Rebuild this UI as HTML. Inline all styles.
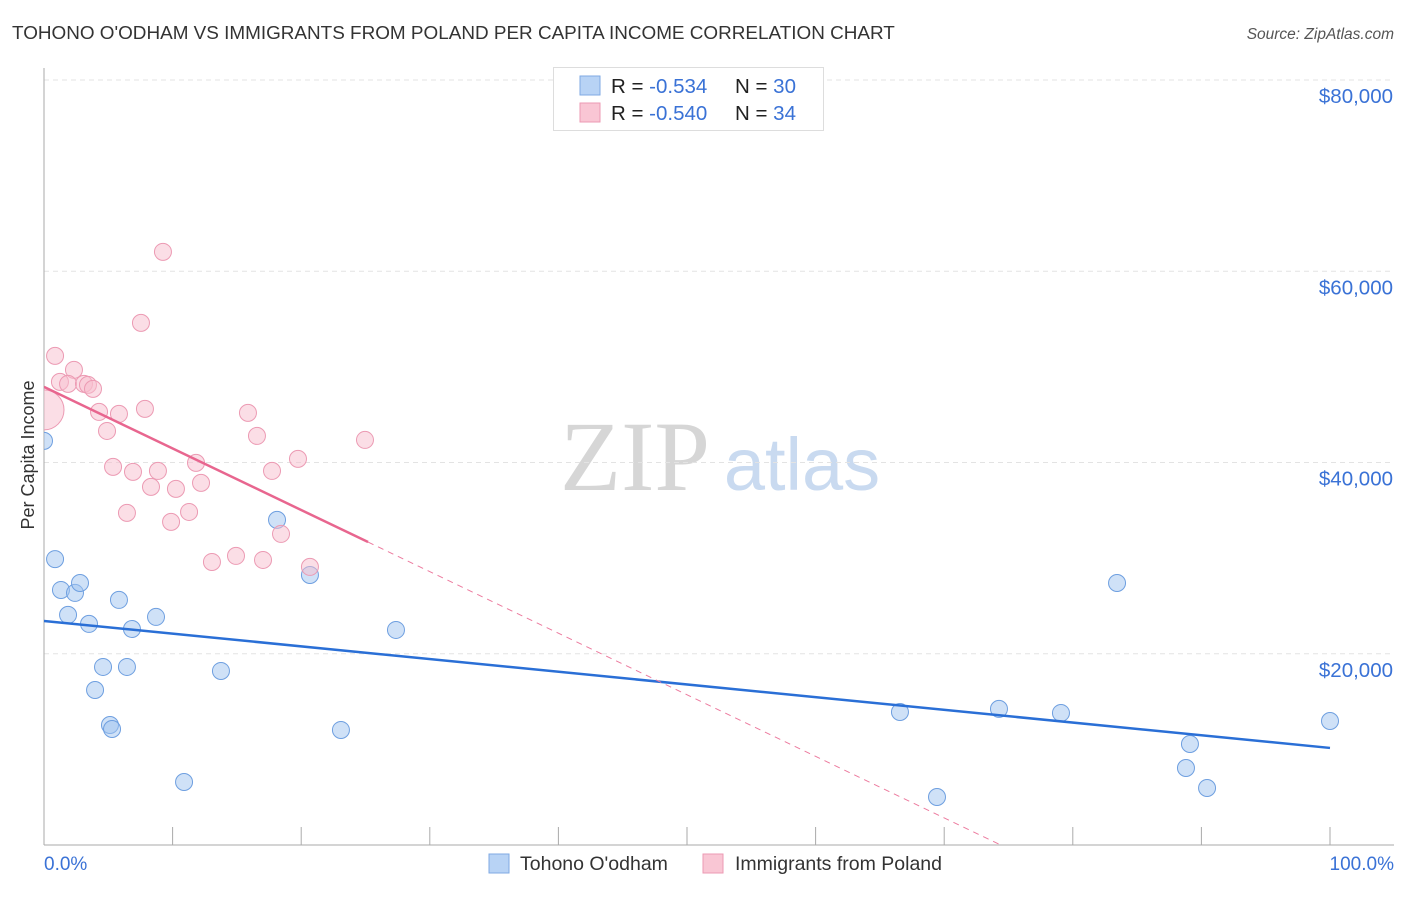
<!DOCTYPE html>
<html><head><meta charset="utf-8"><style>
body{margin:0;background:#fff;font-family:"Liberation Sans",sans-serif;}
svg text{font-family:"Liberation Sans",sans-serif;}
</style></head><body>
<svg id="chart" width="1406" height="892" xmlns="http://www.w3.org/2000/svg">
<defs><clipPath id="plotclip"><rect x="44" y="60" width="1350" height="785"/></clipPath></defs>
<text x="12" y="39" font-size="18.9" fill="#333">TOHONO O'ODHAM VS IMMIGRANTS FROM POLAND PER CAPITA INCOME CORRELATION CHART</text>
<text x="1394" y="39" font-size="15.5" fill="#555" font-style="italic" text-anchor="end">Source: ZipAtlas.com</text>
<g>
<text x="635" y="490" font-size="100" fill="#d6d6d6" text-anchor="middle" style="font-family:'Liberation Serif',serif">ZIP</text>
<text x="802" y="490" font-size="74" fill="#c9daf0" text-anchor="middle">atlas</text>
</g>
<g id="grid"></g>
<g id="axes"></g>
<g id="marks" clip-path="url(#plotclip)"></g>
<text transform="translate(34,455) rotate(-90)" font-size="18" fill="#333" text-anchor="middle">Per Capita Income</text>
<text x="44" y="870" font-size="19" fill="#3a72d6">0.0%</text>
<text x="1394" y="870" font-size="19" fill="#3a72d6" text-anchor="end">100.0%</text>
<g>
<rect x="553.5" y="67.5" width="270" height="63" fill="#fff" stroke="#ddd"/>
<rect x="580" y="76" width="20" height="19" fill="#b8d3f5" stroke="#7fa9e3"/>
<rect x="580" y="103" width="20" height="19" fill="#f9c6d4" stroke="#ec9ab3"/>
<text x="611" y="93" font-size="20.5" fill="#222">R = <tspan fill="#3a72d6">-0.534</tspan><tspan x="735">N = </tspan><tspan fill="#3a72d6">30</tspan></text>
<text x="611" y="120" font-size="20.5" fill="#222">R = <tspan fill="#3a72d6">-0.540</tspan><tspan x="735">N = </tspan><tspan fill="#3a72d6">34</tspan></text>
</g>
<g>
<rect x="489" y="854" width="20" height="19" fill="#b8d3f5" stroke="#7fa9e3"/>
<text x="520" y="870" font-size="19.5" fill="#333">Tohono O'odham</text>
<rect x="703" y="854" width="20" height="19" fill="#f9c6d4" stroke="#ec9ab3"/>
<text x="735" y="870" font-size="19.5" fill="#333">Immigrants from Poland</text>
</g>
</svg>
<script>
const yTicks=[20000,40000,60000,80000];
const yTickLabels=["$20,000","$40,000","$60,000","$80,000"];
const blueX=[0,0.86,1.32,2.41,2.8,1.87,3.5,5.83,8.71,6.84,4.59,6.45,3.97,5.13,5.29,13.76,10.89,18.12,20.68,23.09,27.37,66.56,69.44,74.26,79.08,83.44,89.11,88.8,90.44,100];
const blueY=[42260,29900,26670,26360,27400,24060,23120,25630,23850,22590,18620,18620,16210,12550,12130,18200,6590,34000,28240,12030,22490,13910,5020,14230,13810,27400,10560,8050,5960,12970];
const pinkX=[0.86,9.25,7.54,2.33,1.24,1.87,3.11,3.42,3.81,0,4.28,5.83,7.85,4.9,15.86,16.56,24.96,5.37,6.92,8.86,11.82,17.73,19.75,8.32,10.26,12.21,6.45,11.28,9.88,18.43,13.06,14.93,17.03,20.68];
const pinkY=[51150,62030,54600,49690,48430,48220,48220,48120,47700,45500,45290,45080,45610,43300,45190,42780,42360,39540,39020,39120,39960,39120,40380,37450,37240,37870,34730,34830,33790,32530,29600,30230,29810,29080];
const blueTrend=[23430,10150];
const pinkTrend=[47910,-644];
const pinkSolidEnd=25.2;
const NS="http://www.w3.org/2000/svg";
const X=v=>44+v*12.86;
const Y=v=>845-v*191.25/20000;
function mk(tag,attrs,parent){const e=document.createElementNS(NS,tag);for(const k in attrs)e.setAttribute(k,attrs[k]);parent.appendChild(e);return e;}
const grid=document.getElementById('grid'),axes=document.getElementById('axes'),marks=document.getElementById('marks');
yTicks.forEach((t,i)=>{
 const l=mk('line',{x1:44,x2:1394,y1:Y(t),y2:Y(t),stroke:'#e3e3e3','stroke-dasharray':'5,4'},grid);
 
 
 const tx=mk('text',{x:1393,y:Y(t)+23,'font-size':20.5,fill:'#3a72d6','text-anchor':'end'},axes);
 tx.textContent=yTickLabels[i];
 
 
});
const ya=mk('line',{x1:44,x2:44,y1:68,y2:845,stroke:'#aaa'},axes);


const xa=mk('line',{x1:44,x2:1394,y1:845,y2:845,stroke:'#aaa'},axes);


for(let i=0;i<=10;i++){
 const t=mk('line',{x1:X(i*10),x2:X(i*10),y1:827,y2:845,stroke:'#aaa'},axes);
 
 
}
blueX.forEach((x,i)=>{
 const c=mk('circle',{cx:X(x),cy:Y(blueY[i]),r:8.5,fill:'rgba(160,196,240,0.5)',stroke:'#6e9fe0','stroke-width':1},marks);
 
 
});
pinkX.forEach((x,i)=>{
 const c=mk('circle',{cx:X(x),cy:Y(pinkY[i]),r:i===9?20:8.5,fill:'rgba(248,190,206,0.5)',stroke:'#ec9ab3','stroke-width':1},marks);
 
 
});
const bt=mk('line',{x1:X(0),y1:Y(blueTrend[0]),x2:X(100),y2:Y(blueTrend[1]),stroke:'#2a6fd6','stroke-width':2.5},marks);


const pz=-pinkTrend[0]/pinkTrend[1];
const pd=mk('line',{x1:X(pinkSolidEnd),y1:Y(pinkTrend[0]+pinkTrend[1]*pinkSolidEnd),x2:X(pz),y2:Y(0),stroke:'#ec7a9e','stroke-width':1,'stroke-dasharray':'6,5'},marks);


const pt=mk('line',{x1:X(0),y1:Y(pinkTrend[0]),x2:X(pinkSolidEnd),y2:Y(pinkTrend[0]+pinkTrend[1]*pinkSolidEnd),stroke:'#e8668f','stroke-width':2.5},marks);


</script>
</body></html>
